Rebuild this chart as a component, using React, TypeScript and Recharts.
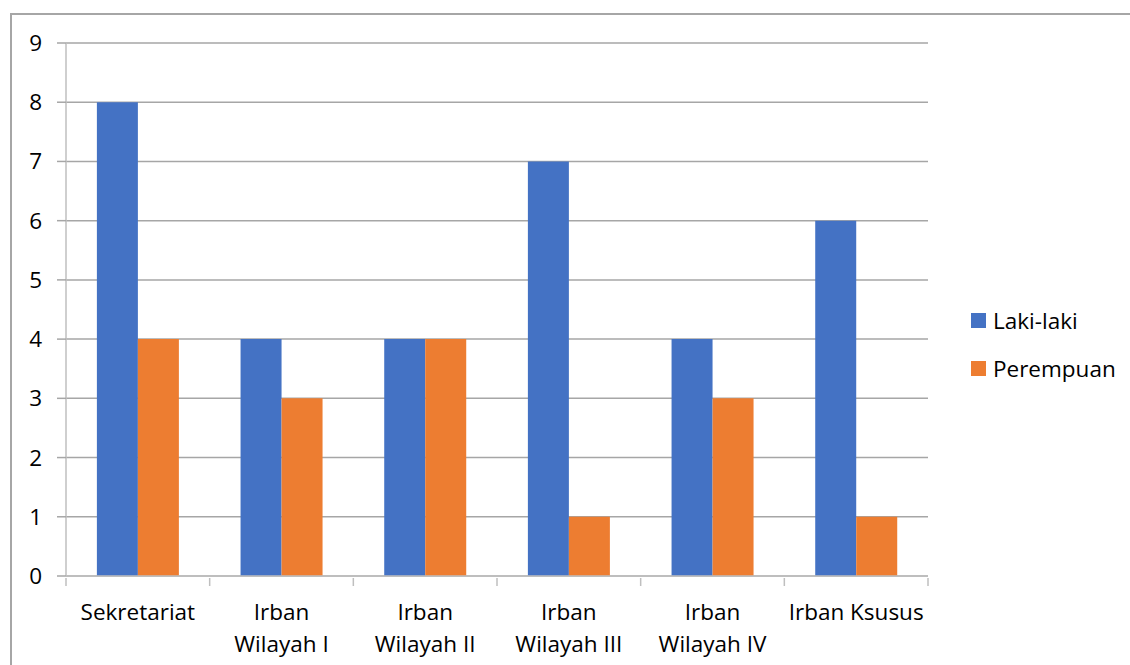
import React from "react";
import { BarChart, Bar, XAxis, YAxis, CartesianGrid } from "recharts";

const categories = ["Sekretariat", "Irban\nWilayah I", "Irban\nWilayah II", "Irban\nWilayah III", "Irban\nWilayah IV", "Irban Ksusus"];
const lakiLaki = [8, 4, 4, 7, 4, 6];
const perempuan = [4, 3, 4, 1, 3, 1];
const yTicks = [0, 1, 2, 3, 4, 5, 6, 7, 8, 9];
const seriesNames = ["Laki-laki", "Perempuan"];
const colors = ["#4472C4", "#ED7D31"];

const data = categories.map((c, i) => ({ name: c, laki: lakiLaki[i], perempuan: perempuan[i] }));

const FONT = "'Open Sans', sans-serif";
const FS = 22.5;

const CatTick = (props: any) => {
  const { x, y, payload, index } = props;
  const off = payload.offset || 0;
  const lines = String(payload.value).split("\n");
  const axisY = y - 8;
  return (
    <g>
      <line x1={x - off} x2={x - off} y1={axisY} y2={axisY + 8} stroke="#bfbfbf" strokeWidth={1.5} />
      {index === categories.length - 1 && (
        <line x1={x + off} x2={x + off} y1={axisY} y2={axisY + 8} stroke="#bfbfbf" strokeWidth={1.5} />
      )}
      <text textAnchor="middle" fontFamily={FONT} fontSize={FS} fill="#000">
        {lines.map((l, i) => (
          <tspan key={i} x={x} y={axisY + 42 + i * 32}>{l}</tspan>
        ))}
      </text>
    </g>
  );
};

export default function App() {
  return (
    <div style={{ position: "absolute", left: 0, top: 0, width: 1130, height: 665, overflow: "hidden", background: "#fff" }}>
      <div style={{ position: "absolute", left: 10, top: 13, width: 1140, height: 700, border: "2px solid #a6a6a6", boxSizing: "border-box" }} />
      <div style={{ position: "absolute", left: 0, top: 0 }}>
        <BarChart
          width={1130}
          height={665}
          data={data}
          margin={{ top: 43, right: 202, bottom: 29, left: 10 }}
          barCategoryGap="21.5%"
          barGap={0}
        >
          <CartesianGrid vertical={false} stroke="#a6a6a6" strokeWidth={1.5} />
          <XAxis
            dataKey="name"
            interval={0}
            height={60}
            tickLine={false}
            axisLine={{ stroke: "#bfbfbf", strokeWidth: 1.5 }}
            tick={<CatTick />}
            tickSize={8}
          />
          <YAxis
            width={56}
            domain={[0, 9]}
            ticks={yTicks}
            interval={0}
            tickSize={9}
            tickMargin={15}
            axisLine={{ stroke: "#bfbfbf", strokeWidth: 1.5 }}
            tickLine={{ stroke: "#a6a6a6", strokeWidth: 1.5 }}
            tick={{ fontFamily: FONT, fontSize: FS, fill: "#000" }}
          />
          <Bar dataKey="laki" name={seriesNames[0]} fill={colors[0]} isAnimationActive={false} />
          <Bar dataKey="perempuan" name={seriesNames[1]} fill={colors[1]} isAnimationActive={false} />
        </BarChart>
      </div>
      {seriesNames.map((n, i) => (
        <div key={n} style={{ position: "absolute", left: 971, top: 313 + i * 48, display: "flex", alignItems: "center", fontFamily: FONT, fontSize: FS, color: "#000", lineHeight: "15px" }}>
          <span style={{ width: 15, height: 15, background: colors[i], display: "inline-block", marginRight: 7 }} />
          <span>{n}</span>
        </div>
      ))}
    </div>
  );
}
